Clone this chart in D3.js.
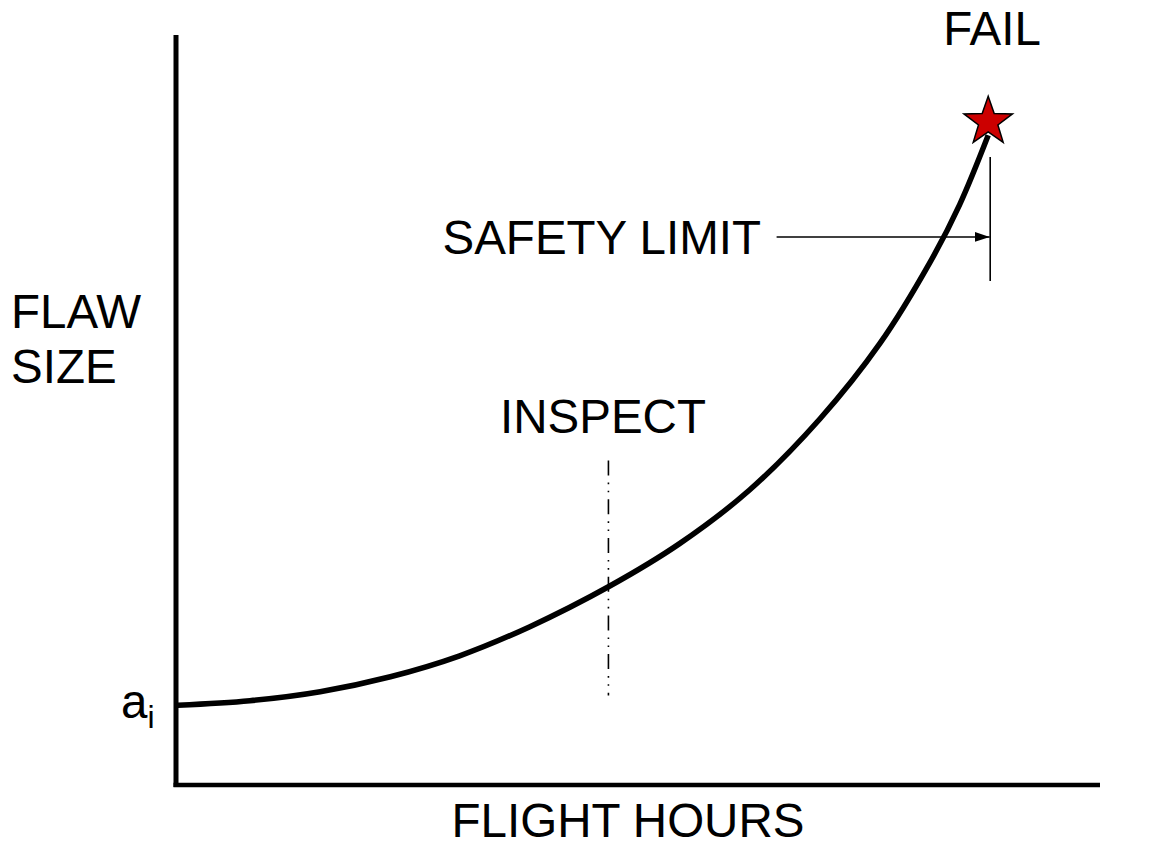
<!DOCTYPE html>
<html>
<head>
<meta charset="utf-8">
<script src="https://cdn.jsdelivr.net/npm/d3@7"></script>
<style>
  html, body { margin: 0; padding: 0; background: #fff; }
  svg { display: block; }
  text { font-family: "Liberation Sans", Arial, sans-serif; fill: #000; }
</style>
</head>
<body>
<svg id="chart" width="1159" height="848"></svg>
<script>
// ---- data (arbitrary units: flight hours 0-100, flaw size 0-100) ----
const curveHours = [0.2, 8.0, 15.6, 23.2, 30.7, 38.3, 46.9, 54.5, 62.1, 69.7, 76.2, 81.6, 84.8, 87.9];
const curveFlaw  = [10.4, 11.0, 12.2, 14.2, 17.0, 20.9, 26.3, 32.0, 39.2, 48.7, 58.8, 69.6, 77.3, 86.6];
const failPoint = { hours: 87.9, flaw: 88.4 };
const inspectHours = 46.8;
const inspectRange = [11.7, 43.1];
const safetyHours = 87.9;
const safetyRange = [67.1, 83.7];
const safetyArrowFlaw = 73.0;
const safetyArrowStart = 65.0;
const labels = { x: "FLIGHT HOURS", y: ["FLAW", "SIZE"], fail: "FAIL", safety: "SAFETY LIMIT", inspect: "INSPECT", ai: "a", aiSub: "i" };

// ---- layout ----
const svg = d3.select("#chart");
const x = d3.scaleLinear().domain([0, 100]).range([176, 1100]);
const y = d3.scaleLinear().domain([0, 100]).range([783, 35]);

// axes (plain lines)
svg.append("line").attr("x1", x(0)).attr("x2", x(0)).attr("y1", y(100)).attr("y2", y(0) + 4)
  .attr("stroke", "#000").attr("stroke-width", 5);
svg.append("line").attr("x1", x(0) - 2.5).attr("x2", x(100)).attr("y1", y(0) + 2).attr("y2", y(0) + 2)
  .attr("stroke", "#000").attr("stroke-width", 4.5);

// inspect dash-dot line
svg.append("line")
  .attr("x1", x(inspectHours)).attr("x2", x(inspectHours))
  .attr("y1", y(inspectRange[1])).attr("y2", y(inspectRange[0]))
  .attr("stroke", "#000").attr("stroke-width", 1.6)
  .attr("stroke-dasharray", "15,7,1.6,6.5,1.6,7");

// crack growth curve
const pts = curveHours.map((h, i) => [h, curveFlaw[i]]);
svg.append("path").datum(pts)
  .attr("d", d3.line().x(d => x(d[0])).y(d => y(d[1])).curve(d3.curveCatmullRom.alpha(0.5)))
  .attr("fill", "none").attr("stroke", "#000").attr("stroke-width", 5.5);

// safety limit vertical line
svg.append("line")
  .attr("x1", x(safetyHours) + 2).attr("x2", x(safetyHours) + 2)
  .attr("y1", y(safetyRange[1])).attr("y2", y(safetyRange[0]))
  .attr("stroke", "#000").attr("stroke-width", 1.6);

// arrow
svg.append("defs").append("marker").attr("id", "arrow")
  .attr("viewBox", "0 0 15 10").attr("refX", 15).attr("refY", 5)
  .attr("markerWidth", 15).attr("markerHeight", 10).attr("markerUnits", "userSpaceOnUse")
  .attr("orient", "auto")
  .append("path").attr("d", "M0,0L15,5L0,10Z").attr("fill", "#000");
svg.append("line")
  .attr("x1", x(safetyArrowStart)).attr("x2", x(safetyHours) + 1.5)
  .attr("y1", y(safetyArrowFlaw)).attr("y2", y(safetyArrowFlaw))
  .attr("stroke", "#000").attr("stroke-width", 1.6)
  .attr("marker-end", "url(#arrow)");

// star
const R = 25.5, r = R * 0.4;
const starPts = d3.range(10).map(i => {
  const a = -Math.PI / 2 + i * Math.PI / 5;
  const rad = i % 2 === 0 ? R : r;
  return [rad * Math.cos(a), rad * Math.sin(a)];
});
svg.append("path")
  .attr("d", "M" + starPts.map(p => p.join(",")).join("L") + "Z")
  .attr("transform", `translate(${x(failPoint.hours)},${y(failPoint.flaw)})`)
  .attr("fill", "#cc0000").attr("stroke", "#000").attr("stroke-width", 1.5);

// texts
const fs = 47.5;
svg.append("text").attr("x", 628).attr("y", 837).attr("text-anchor", "middle")
  .attr("font-size", fs).text(labels.x);
svg.append("text").attr("x", 11).attr("y", 328).attr("font-size", fs).text(labels.y[0]);
svg.append("text").attr("x", 11).attr("y", 383).attr("font-size", fs).text(labels.y[1]);
svg.append("text").attr("x", 992).attr("y", 45).attr("text-anchor", "middle")
  .attr("font-size", fs).text(labels.fail);
svg.append("text").attr("x", 761).attr("y", 254).attr("text-anchor", "end")
  .attr("font-size", fs).text(labels.safety);
svg.append("text").attr("x", 603).attr("y", 433).attr("text-anchor", "middle")
  .attr("font-size", fs).text(labels.inspect);
const ai = svg.append("text").attr("x", 121).attr("y", 718).attr("font-size", fs);
ai.append("tspan").text(labels.ai);
ai.append("tspan").attr("dy", 10).attr("font-size", 32).text(labels.aiSub);
</script>
</body>
</html>
